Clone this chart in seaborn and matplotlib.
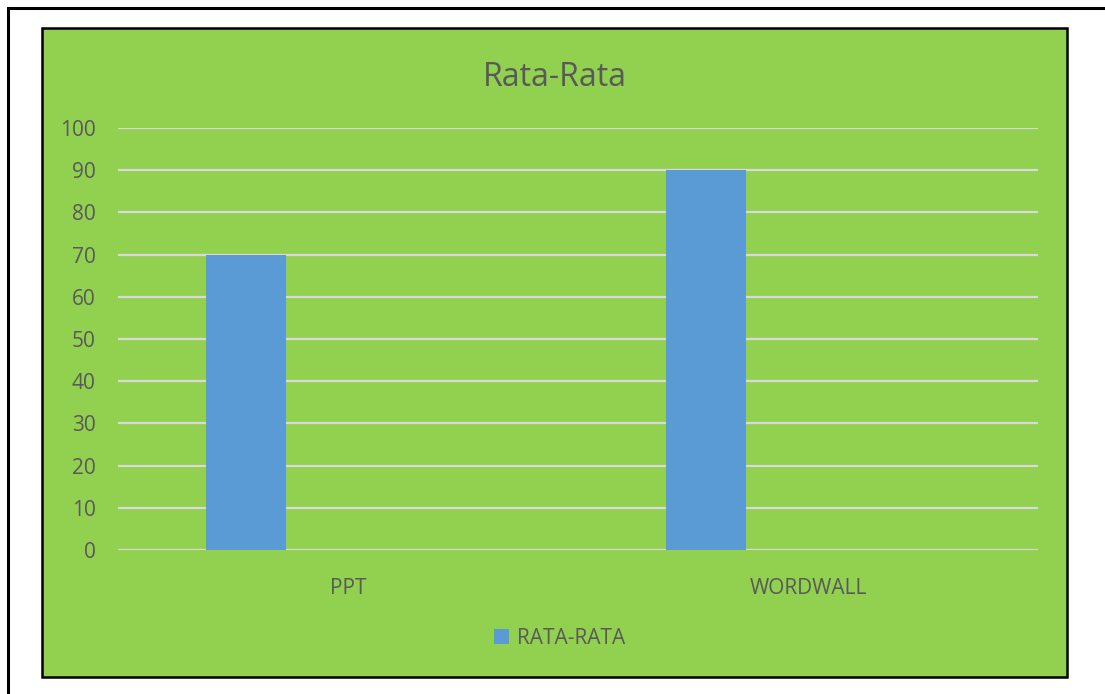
import numpy as np
import pandas as pd
import seaborn as sns
import matplotlib.pyplot as plt
from matplotlib.patches import Rectangle, Patch

# Data
categories = ['PPT', 'WORDWALL']
values = [70, 90]
series_name = 'RATA-RATA'
title = 'Rata-Rata'
y_ticks = [0, 10, 20, 30, 40, 50, 60, 70, 80, 90, 100]

green = '#92D050'
blue = '#5B9BD5'
text_col = '#595959'
grid_col = '#D9D9D9'

sns.set_theme(style='white')
plt.rcParams['font.family'] = ['Open Sans', 'DejaVu Sans']

fig = plt.figure(figsize=(11.05, 6.94), dpi=100)
fig.patch.set_facecolor('white')

# outer frame and green chart area (drawn under the axes)
fig.patches.append(Rectangle((8 / 1105, -0.1), 1.2, 0.1 + 1 - 8 / 694, transform=fig.transFigure,
                             facecolor='white', edgecolor='black', lw=2.2, zorder=-3))
fig.patches.append(Rectangle((42 / 1105, 1 - 677 / 694), (1067 - 42) / 1105, (677 - 28) / 694,
                             transform=fig.transFigure, facecolor=green, edgecolor='black',
                             lw=1.8, zorder=-2))

ax = fig.add_axes([118 / 1105, 1 - 550 / 694, 920 / 1105, 422 / 694])
ax.patch.set_visible(False)

# bars sit left of the category centre, like the Excel cluster
offset = -0.222
df = pd.DataFrame({'pos': np.arange(len(categories)) + offset, 'val': values})
sns.barplot(data=df, x='pos', y='val', native_scale=True, width=0.174,
            color=blue, saturation=1, linewidth=0, edgecolor='none', ax=ax, zorder=3)

ax.set_xlim(-0.5, len(categories) - 0.5)
ax.set_ylim(0, 100)
ax.set_yticks(y_ticks)
ax.set_xticks(np.arange(len(categories)))
ax.set_xticklabels(categories)
ax.set_xlabel('')
ax.set_ylabel('')
for s in ax.spines.values():
    s.set_visible(False)
ax.yaxis.grid(True, color=grid_col, lw=1.6, zorder=0)
ax.set_axisbelow(True)
ax.tick_params(axis='y', length=0, pad=16, labelsize=15, labelcolor=text_col)
ax.tick_params(axis='x', length=0, pad=20, labelsize=15, labelcolor=text_col)

fig.text(555 / 1105, 1 - 86 / 694, title, ha='center', va='baseline',
         fontsize=23, color=text_col)

fig.legend(handles=[Patch(facecolor=blue, edgecolor='none', label=series_name)], loc='center',
           bbox_to_anchor=(560 / 1105, 1 - 638 / 694), frameon=False,
           fontsize=15, labelcolor=text_col, handlelength=0.7, handleheight=0.7,
           handletextpad=0.4)

fig.savefig('out.png', dpi=100)
